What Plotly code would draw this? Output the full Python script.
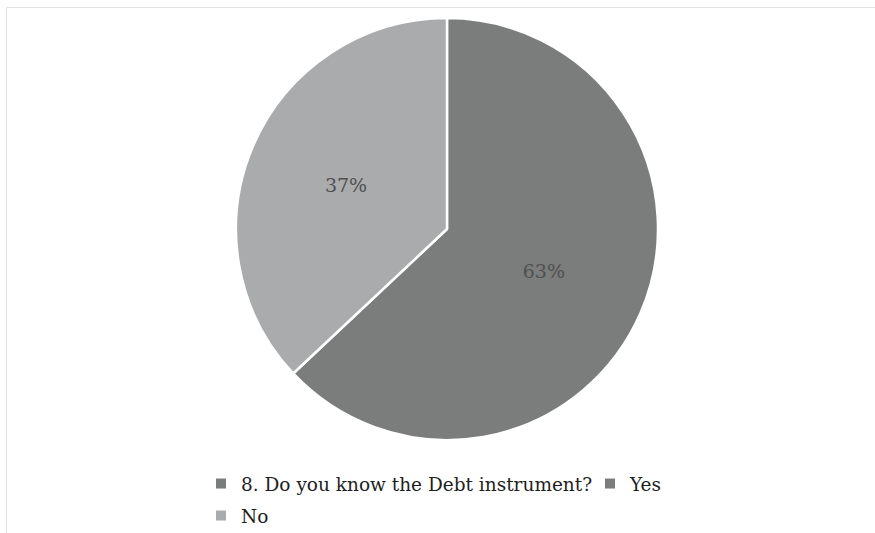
import plotly.graph_objects as go

# Survey answers for question 8
question = "8. Do you know the Debt instrument?"
labels = ["Yes", "No"]
values = [63, 37]
colors = ["#7b7c7c", "#aaabac"]
question_color = "#7b7c7c"

W, H = 875, 533
T = 8
plot_h = H - T

fig = go.Figure()

fig.add_trace(
    go.Pie(
        labels=labels,
        values=values,
        sort=False,
        direction="clockwise",
        rotation=0,
        marker=dict(colors=colors, line=dict(color="white", width=2.5)),
        textinfo="percent",
        texttemplate="%{percent:.0%}",
        textposition="inside",
        insidetextorientation="horizontal",
        textfont=dict(family="DejaVu Serif", size=19, color="#4f4f4f"),
        domain=dict(x=[0.2697, 0.752], y=[0.177, 0.981]),
        hoverinfo="label+percent",
        showlegend=False,
    )
)

# legend entries: series name, then each answer, each in its own legend box
entries = [(question, question_color, "legend"),
           (labels[0], colors[0], "legend3"),
           (labels[1], colors[1], "legend2")]
for name, col, lg in entries:
    fig.add_trace(
        go.Scatter(
            x=[None], y=[None], mode="markers", name=name,
            marker=dict(symbol="square", size=10, color=col),
            legend=lg, hoverinfo="skip",
        )
    )

# thin frame lines along the top and left edges
fx0 = 6.5 / W
fy_top = 1 + (T - 7.5) / plot_h
frame = dict(color="#e2e2e2", width=1)
fig.add_shape(type="line", xref="paper", yref="paper", x0=fx0, x1=1, y0=fy_top, y1=fy_top, line=frame)
fig.add_shape(type="line", xref="paper", yref="paper", x0=fx0, x1=fx0, y0=fy_top, y1=-0.1, line=frame)

legend_font = dict(family="DejaVu Serif", size=18.5, color="#1e1e1e")


def legend_box(px, py):
    return dict(orientation="h", xref="container", yref="container",
                x=px / W, xanchor="left", y=1 - py / H, yanchor="top",
                font=legend_font, itemwidth=30, bgcolor="rgba(0,0,0,0)")


fig.update_layout(
    width=W,
    height=H,
    margin=dict(l=0, r=0, t=T, b=0, autoexpand=False),
    paper_bgcolor="white",
    plot_bgcolor="white",
    xaxis=dict(visible=False),
    yaxis=dict(visible=False),
    legend=legend_box(201, 465),
    legend3=legend_box(590, 465),
    legend2=legend_box(201, 497),
)

fig.write_html("out.html")
